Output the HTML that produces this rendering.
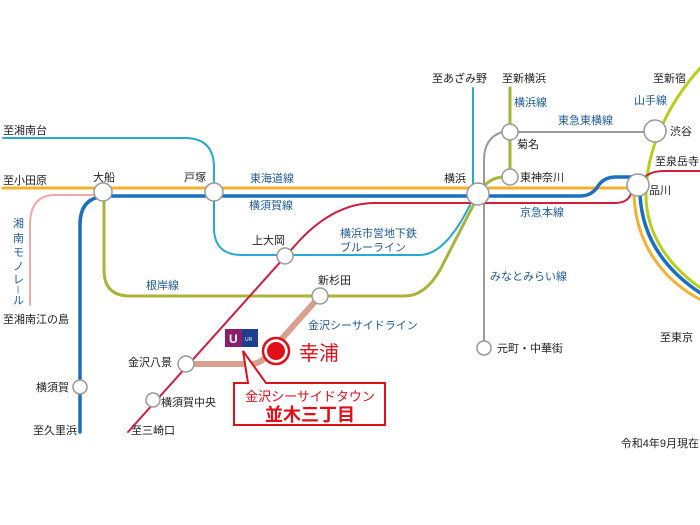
<!DOCTYPE html>
<html><head><meta charset="utf-8"><style>
html,body{margin:0;padding:0;background:#fff;}
svg{display:block;font-family:"Liberation Sans","Noto Sans CJK JP",sans-serif;}
.k{fill:#222;font-size:11px;}
.b{fill:#1f5a97;font-size:11px;}
</style></head><body>
<svg width="700" height="525" viewBox="0 0 700 525" xmlns="http://www.w3.org/2000/svg">
<g fill="none" stroke-linecap="round">
<path d="M3,138 H185 Q214,138 214,168 V228 Q214,255 242,255 H420 Q445,255 470,205" stroke="#2aa9cf" stroke-width="2"/>
<path d="M473,88 V194" stroke="#2aa9cf" stroke-width="2"/>
<path d="M104,196 V270 Q104,296 130,296 H405 Q425,296 440,270 L476,200" stroke="#a9b43a" stroke-width="3"/>
<path d="M480,190 Q490,178 502,177" stroke="#a9b43a" stroke-width="3"/>
<path d="M510,88 V177" stroke="#a9b43a" stroke-width="3"/>
<path d="M484,348 V160 Q484,138 502,132" stroke="#9a9a9a" stroke-width="2"/>
<path d="M510,132 H655" stroke="#9a9a9a" stroke-width="2"/>
<path d="M96,195 H55 Q30,195 30,225 V305" stroke="#f0a8a8" stroke-width="2"/>
<path d="M3,188 H636" stroke="#f5b030" stroke-width="3"/>
<path d="M634,190 C634,240 660,280 705,302" stroke="#f5b030" stroke-width="3"/>
<path d="M104,196 H580 Q592,196 598,186 Q604,177 616,177 H632" stroke="#1a6fc0" stroke-width="3.5"/>
<path d="M100,197 Q80,200 80,225 V432" stroke="#1a6fc0" stroke-width="3.5"/>
<path d="M640,194 C642,240 668,273 705,296" stroke="#1a6fc0" stroke-width="3.5"/>
<path d="M708,60 C668,100 646,150 646,195 C646,235 670,268 705,291" stroke="#b5cf1a" stroke-width="3"/>
<path d="M128,432 L300,240 Q335,203 375,203 H615 Q630,203 632,190" stroke="#cc1f3f" stroke-width="2"/>
<path d="M644,178 Q650,171 665,171 H700" stroke="#cc1f3f" stroke-width="2"/>
<path d="M185,364 H250 Q262,364 270,352 L320,296" stroke="#d9a090" stroke-width="6"/>
</g>
<g fill="#fff" stroke="#999" stroke-width="1.5">
<circle cx="103" cy="192" r="9"/>
<circle cx="214" cy="192" r="9"/>
<circle cx="285" cy="256" r="8"/>
<circle cx="320" cy="296" r="8"/>
<circle cx="478" cy="194" r="11"/>
<circle cx="510" cy="132" r="8"/>
<circle cx="510" cy="177" r="8"/>
<circle cx="655" cy="131" r="11"/>
<circle cx="638" cy="185" r="11"/>
<circle cx="186" cy="364" r="8"/>
<circle cx="153" cy="400" r="7"/>
<circle cx="80" cy="387" r="7"/>
<circle cx="484" cy="348" r="7"/>
</g>
<circle cx="276" cy="351" r="13" fill="#fff" stroke="#e0101a" stroke-width="2.5"/>
<circle cx="276" cy="351" r="9" fill="#e0101a"/>
<rect x="225" y="329" width="17" height="18" fill="#8a1f6e"/>
<rect x="242" y="329" width="16" height="18" fill="#1d3f8c"/>
<text x="229" y="343" fill="#fff" font-size="12" font-weight="bold">U</text>
<text x="245" y="341" fill="#fff" font-size="5">UR</text>
<path d="M234,383 H248 L243,351 L266,383 H385 V425 H234 Z" fill="#fff" stroke="#e0101a" stroke-width="2"/>
<text x="310" y="401" text-anchor="middle" fill="#e0101a" font-size="13">金沢シーサイドタウン</text>
<text x="310" y="421" text-anchor="middle" fill="#e0101a" font-size="18" font-weight="bold">並木三丁目</text>
<text x="299" y="360" fill="#e0101a" font-size="20">幸浦</text>
<text class="k" x="3" y="134">至湘南台</text>
<text class="k" x="3" y="184">至小田原</text>
<text class="k" x="93" y="181">大船</text>
<text class="k" x="184" y="181">戸塚</text>
<text class="b" x="250" y="182">東海道線</text>
<text class="b" x="249" y="209">横須賀線</text>
<text class="k" x="252" y="244">上大岡</text>
<text class="b" x="340" y="237">横浜市営地下鉄</text>
<text class="b" x="340" y="251">ブルーライン</text>
<text class="b" x="146" y="289">根岸線</text>
<text class="k" x="318" y="284">新杉田</text>
<text class="b" x="308" y="329" font-size="10">金沢シーサイドライン</text>
<g class="b"><text x="13" y="227">湘</text><text x="13" y="242">南</text><text x="13" y="256">モ</text><text x="13" y="270">ノ</text><text x="13" y="283">レ</text><text x="17" y="292" font-size="8">|</text><text x="13" y="304">ル</text></g>
<text class="k" x="3" y="323">至湘南江の島</text>
<text class="k" x="36" y="391">横須賀</text>
<text class="k" x="33" y="434">至久里浜</text>
<text class="k" x="128" y="366">金沢八景</text>
<text class="k" x="161" y="406">横須賀中央</text>
<text class="k" x="131" y="434">至三崎口</text>
<text class="k" x="497" y="352">元町・中華街</text>
<text class="b" x="490" y="280">みなとみらい線</text>
<text class="b" x="520" y="216">京急本線</text>
<text class="k" x="444" y="182">横浜</text>
<text class="k" x="520" y="181">東神奈川</text>
<text class="k" x="517" y="148">菊名</text>
<text class="b" x="514" y="106">横浜線</text>
<text class="b" x="558" y="124">東急東横線</text>
<text class="k" x="432" y="82">至あざみ野</text>
<text class="k" x="502" y="82">至新横浜</text>
<text class="k" x="653" y="82">至新宿</text>
<text class="b" x="634" y="104">山手線</text>
<text class="k" x="670" y="135">渋谷</text>
<text class="k" x="699" y="165" text-anchor="end">至泉岳寺</text>
<text class="k" x="649" y="194">品川</text>
<text class="k" x="660" y="341">至東京</text>
<text class="k" x="699" y="447" font-size="8" text-anchor="end">令和4年9月現在</text>
</svg>
</body></html>
